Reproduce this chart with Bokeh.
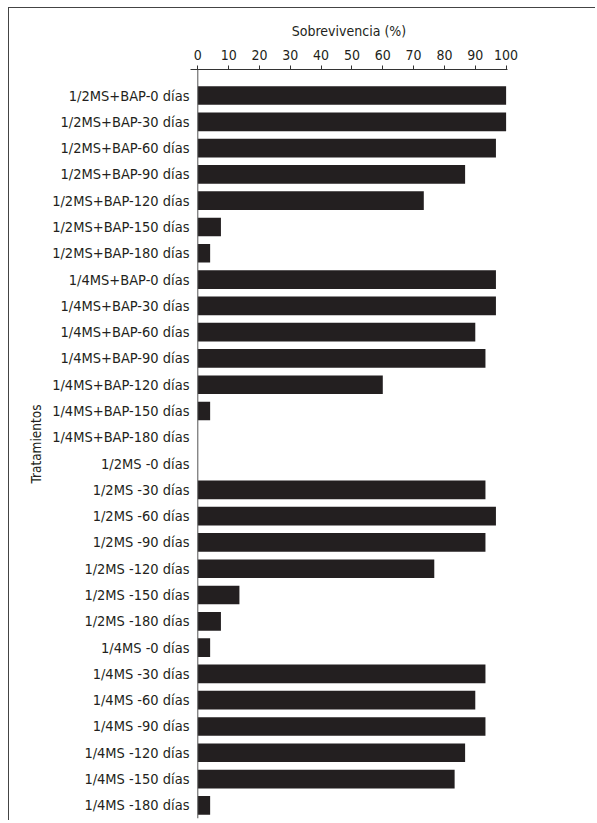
from bokeh.plotting import figure
from bokeh.models import ColumnDataSource, Range1d, FixedTicker, Span
from bokeh.embed import file_html
from bokeh.resources import INLINE

# ---- data ----
categories = [
    "1/2MS+BAP-0 días", "1/2MS+BAP-30 días", "1/2MS+BAP-60 días", "1/2MS+BAP-90 días",
    "1/2MS+BAP-120 días", "1/2MS+BAP-150 días", "1/2MS+BAP-180 días",
    "1/4MS+BAP-0 días", "1/4MS+BAP-30 días", "1/4MS+BAP-60 días", "1/4MS+BAP-90 días",
    "1/4MS+BAP-120 días", "1/4MS+BAP-150 días", "1/4MS+BAP-180 días",
    "1/2MS -0 días", "1/2MS -30 días", "1/2MS -60 días", "1/2MS -90 días",
    "1/2MS -120 días", "1/2MS -150 días", "1/2MS -180 días",
    "1/4MS -0 días", "1/4MS -30 días", "1/4MS -60 días", "1/4MS -90 días",
    "1/4MS -120 días", "1/4MS -150 días", "1/4MS -180 días",
]
survival = [
    100, 100, 96.7, 86.7, 73.3, 7.5, 4,
    96.7, 96.7, 90, 93.3, 60, 4, 0,
    0, 93.3, 96.7, 93.3, 76.7, 13.5, 7.5,
    4, 93.3, 90, 93.3, 86.7, 83.3, 4,
]
x_ticks = [0, 10, 20, 30, 40, 50, 60, 70, 80, 90, 100]
x_title = "Sobrevivencia (%)"
y_title = "Tratamientos"

FONT = "'DejaVu Sans Condensed', 'Liberation Sans', sans-serif"
INK = "#231f20"

positions = list(range(len(categories)))
src = ColumnDataSource(dict(y=positions, right=survival))

p = figure(
    width=587, height=813,
    x_range=Range1d(-2.37, 100.45),
    y_range=Range1d(len(categories) - 0.5, -0.99),
    x_axis_location="above",
    output_backend="svg", toolbar_location=None,
    min_border_left=181, min_border_right=89, min_border_top=61, min_border_bottom=3,
)
p.styles = {"margin-top": "7px", "margin-left": "8px",
            "border-top": "1px solid #444", "border-left": "1px solid #444"}

p.hbar(y="y", left=0, right="right", height=0.71, source=src,
       fill_color=INK, line_color=None)

p.add_layout(Span(location=0, dimension="height", line_color="#555", line_width=1))

p.grid.visible = False
p.outline_line_color = None

xa = p.xaxis[0]
xa.ticker = FixedTicker(ticks=x_ticks)
xa.minor_tick_line_color = None
xa.major_tick_in = 0
xa.major_tick_out = 4
xa.axis_line_color = "#333"
xa.major_tick_line_color = "#333"
xa.major_label_standoff = 6
xa.major_label_text_font = FONT
xa.major_label_text_font_size = "14px"
xa.major_label_text_color = INK
xa.axis_label = x_title
xa.axis_label_text_font = FONT
xa.axis_label_text_font_size = "14px"
xa.axis_label_text_font_style = "normal"
xa.axis_label_text_color = INK
xa.axis_label_standoff = 8

ya = p.yaxis[0]
ya.ticker = FixedTicker(ticks=positions)
ya.major_label_overrides = {i: c for i, c in zip(positions, categories)}
ya.axis_line_color = None
ya.major_tick_line_color = None
ya.minor_tick_line_color = None
ya.major_tick_in = 0
ya.major_tick_out = 0
ya.major_label_standoff = 1
ya.major_label_text_font = FONT
ya.major_label_text_font_size = "14.5px"
ya.major_label_text_color = INK
ya.axis_label = y_title
ya.axis_label_text_font = FONT
ya.axis_label_text_font_size = "13.5px"
ya.axis_label_text_font_style = "normal"
ya.axis_label_text_color = INK
ya.axis_label_standoff = 5

open("out.html", "w").write(file_html(p, INLINE))
